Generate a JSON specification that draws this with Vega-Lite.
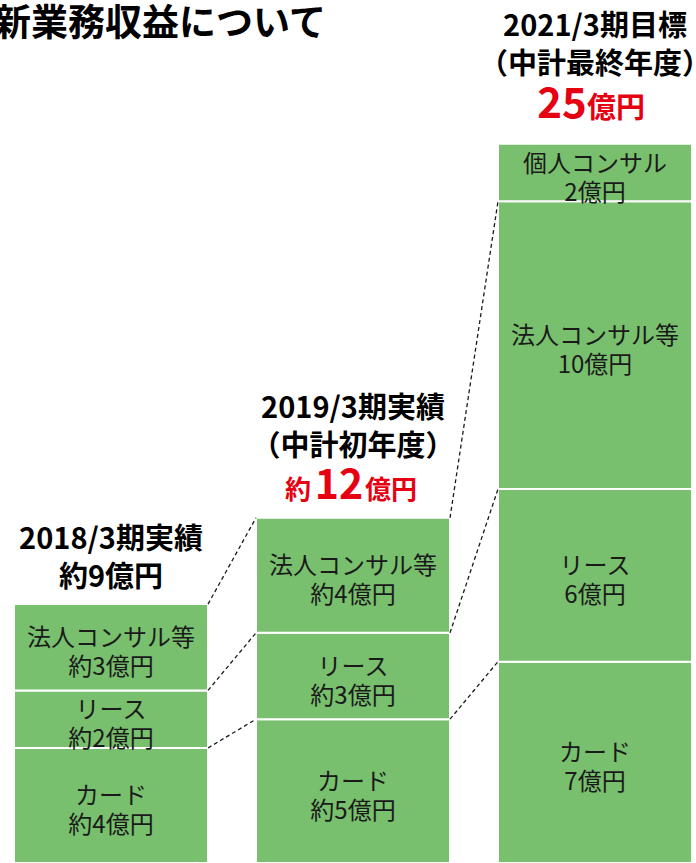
{
  "$schema": "https://vega.github.io/schema/vega-lite/v6.json",
  "width": 696,
  "height": 863,
  "autosize": "none",
  "padding": 0,
  "background": "white",
  "config": {"view": {"stroke": null}, "font": "Noto Sans CJK JP"},
  "title": {"text": "新業務収益について", "anchor": "start", "frame": "group", "orient": "top", "offset": 0, "dx": -6, "dy": 62, "baseline": "middle", "fontSize": 37, "fontWeight": "bold", "color": "#000000", "font": "Noto Sans CJK JP"},
  "datasets": {
    "segments": [
      {"bar": "2018/3", "seg": "カード", "order": 1, "value": 4, "label": "カード\n約4億円"},
      {"bar": "2018/3", "seg": "リース", "order": 2, "value": 2, "label": "リース\n約2億円"},
      {"bar": "2018/3", "seg": "法人コンサル等", "order": 3, "value": 3, "label": "法人コンサル等\n約3億円"},
      {"bar": "2019/3", "seg": "カード", "order": 1, "value": 5, "label": "カード\n約5億円"},
      {"bar": "2019/3", "seg": "リース", "order": 2, "value": 3, "label": "リース\n約3億円"},
      {"bar": "2019/3", "seg": "法人コンサル等", "order": 3, "value": 4, "label": "法人コンサル等\n約4億円"},
      {"bar": "2021/3", "seg": "カード", "order": 1, "value": 7, "label": "カード\n7億円"},
      {"bar": "2021/3", "seg": "リース", "order": 2, "value": 6, "label": "リース\n6億円"},
      {"bar": "2021/3", "seg": "法人コンサル等", "order": 3, "value": 10, "label": "法人コンサル等\n10億円"},
      {"bar": "2021/3", "seg": "個人コンサル", "order": 4, "value": 2, "label": "個人コンサル\n2億円"}
    ],
    "links": [
      {"from": "2018/3", "to": "2019/3", "v1": 4, "v2": 5},
      {"from": "2018/3", "to": "2019/3", "v1": 6, "v2": 8},
      {"from": "2018/3", "to": "2019/3", "v1": 9, "v2": 12},
      {"from": "2019/3", "to": "2021/3", "v1": 5, "v2": 7},
      {"from": "2019/3", "to": "2021/3", "v1": 8, "v2": 13},
      {"from": "2019/3", "to": "2021/3", "v1": 12, "v2": 23}
    ],
    "heads": [
      {"bar": "2018/3", "total": 9, "head": "2018/3期実績\n約9億円"},
      {"bar": "2019/3", "total": 12, "head": "2019/3期実績\n（中計初年度）", "pre": "約", "num": "12", "unit": "億円"},
      {"bar": "2021/3", "total": 25, "head": "2021/3期目標\n（中計最終年度）", "num": "25", "unit": "億円"}
    ]
  },
  "layer": [
    {
      "data": {"name": "segments"},
      "mark": {"type": "bar", "fill": "#78c06e", "stroke": "#ffffff", "strokeWidth": 2},
      "encoding": {
        "x": {"field": "bar", "type": "nominal", "scale": {"domain": ["2018/3", "2019/3", "2021/3"], "paddingInner": 0.1983, "paddingOuter": 0.0372, "align": 0.778}, "axis": null},
        "y": {"field": "value", "type": "quantitative", "stack": "zero", "scale": {"domain": [0.19, 29.87]}, "axis": null},
        "order": {"field": "order", "type": "quantitative"},
        "detail": {"field": "seg"}
      }
    },
    {
      "data": {"name": "segments"},
      "mark": {"type": "text", "lineBreak": "\n", "baseline": "middle", "align": "center", "fontSize": 24, "lineHeight": 29, "color": "#1a1a1a", "dy": -8, "font": "Noto Sans CJK JP"},
      "encoding": {
        "x": {"field": "bar", "type": "nominal", "axis": null},
        "y": {"field": "value", "type": "quantitative", "stack": "zero", "bandPosition": 0.5, "axis": null},
        "order": {"field": "order", "type": "quantitative"},
        "detail": {"field": "seg"},
        "text": {"field": "label"}
      }
    },
    {
      "data": {"name": "links"},
      "mark": {"type": "rule", "stroke": "#1a1a1a", "strokeWidth": 1.3, "strokeDash": [4, 3]},
      "encoding": {
        "x": {"field": "from", "type": "nominal", "bandPosition": 1, "axis": null},
        "x2": {"field": "to", "bandPosition": 0},
        "y": {"field": "v1", "type": "quantitative", "axis": null},
        "y2": {"field": "v2"}
      }
    },
    {
      "data": {"name": "heads"},
      "transform": [{"filter": "datum.bar === '2018/3'"}],
      "mark": {"type": "text", "lineBreak": "\n", "baseline": "middle", "align": "center", "fontSize": 29, "fontWeight": "bold", "lineHeight": 38, "color": "#000000", "dy": -64},
      "encoding": {
        "x": {"field": "bar", "type": "nominal", "axis": null},
        "y": {"field": "total", "type": "quantitative", "axis": null},
        "text": {"field": "head"}
      }
    },
    {
      "data": {"name": "heads"},
      "transform": [{"filter": "datum.bar === '2019/3'"}],
      "mark": {"type": "text", "lineBreak": "\n", "baseline": "middle", "align": "center", "fontSize": 29, "fontWeight": "bold", "lineHeight": 38, "color": "#000000", "dy": -109},
      "encoding": {
        "x": {"field": "bar", "type": "nominal", "axis": null},
        "y": {"field": "total", "type": "quantitative", "axis": null},
        "text": {"field": "head"}
      }
    },
    {
      "data": {"name": "heads"},
      "transform": [{"filter": "datum.bar === '2021/3'"}],
      "mark": {"type": "text", "lineBreak": "\n", "baseline": "middle", "align": "center", "fontSize": 29, "fontWeight": "bold", "lineHeight": 38, "color": "#000000", "dy": -117},
      "encoding": {
        "x": {"field": "bar", "type": "nominal", "axis": null},
        "y": {"field": "total", "type": "quantitative", "axis": null},
        "text": {"field": "head"}
      }
    },
    {
      "data": {"name": "heads"},
      "transform": [{"filter": "datum.bar === '2019/3'"}],
      "mark": {"type": "text", "baseline": "alphabetic", "align": "right", "fontSize": 26, "fontWeight": "bold", "color": "#e60012", "dx": -42, "dy": -19},
      "encoding": {
        "x": {"field": "bar", "type": "nominal", "axis": null},
        "y": {"field": "total", "type": "quantitative", "axis": null},
        "text": {"field": "pre"}
      }
    },
    {
      "data": {"name": "heads"},
      "transform": [{"filter": "datum.bar === '2019/3'"}],
      "mark": {"type": "text", "baseline": "alphabetic", "align": "center", "fontSize": 41, "fontWeight": "bold", "color": "#e60012", "dx": -14, "dy": -19},
      "encoding": {
        "x": {"field": "bar", "type": "nominal", "axis": null},
        "y": {"field": "total", "type": "quantitative", "axis": null},
        "text": {"field": "num"}
      }
    },
    {
      "data": {"name": "heads"},
      "transform": [{"filter": "datum.bar === '2019/3'"}],
      "mark": {"type": "text", "baseline": "alphabetic", "align": "left", "fontSize": 26, "fontWeight": "bold", "color": "#e60012", "dx": 12, "dy": -19},
      "encoding": {
        "x": {"field": "bar", "type": "nominal", "axis": null},
        "y": {"field": "total", "type": "quantitative", "axis": null},
        "text": {"field": "unit"}
      }
    },
    {
      "data": {"name": "heads"},
      "transform": [{"filter": "datum.bar === '2021/3'"}],
      "mark": {"type": "text", "baseline": "alphabetic", "align": "center", "fontSize": 42, "fontWeight": "bold", "color": "#e60012", "dx": -33, "dy": -26},
      "encoding": {
        "x": {"field": "bar", "type": "nominal", "axis": null},
        "y": {"field": "total", "type": "quantitative", "axis": null},
        "text": {"field": "num"}
      }
    },
    {
      "data": {"name": "heads"},
      "transform": [{"filter": "datum.bar === '2021/3'"}],
      "mark": {"type": "text", "baseline": "alphabetic", "align": "left", "fontSize": 29, "fontWeight": "bold", "color": "#e60012", "dx": -8, "dy": -26},
      "encoding": {
        "x": {"field": "bar", "type": "nominal", "axis": null},
        "y": {"field": "total", "type": "quantitative", "axis": null},
        "text": {"field": "unit"}
      }
    }
  ]
}
